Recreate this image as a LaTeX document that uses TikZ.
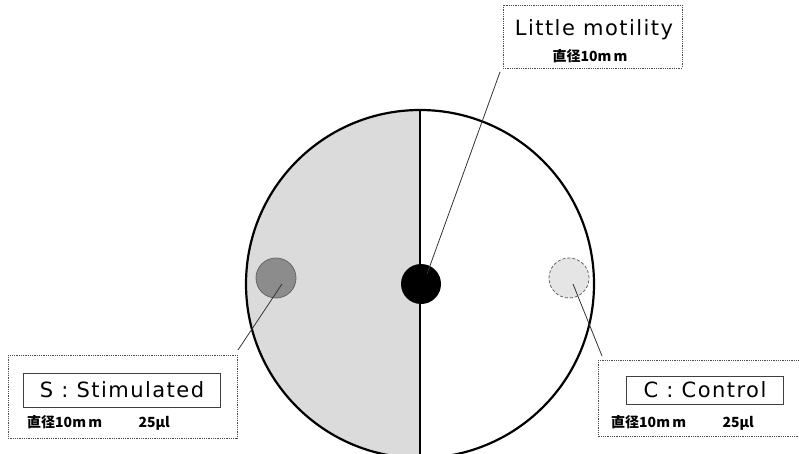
\documentclass[tikz,border=0pt]{standalone}
\usepackage{fontspec}
\newfontfamily\cjk{Noto Sans CJK JP}
\newfontfamily\lat[LetterSpace=7]{DejaVu Sans}
\begin{document}
\begin{tikzpicture}[x=1pt,y=-1pt,
  outerbox/.style={draw=black!70,line width=0.8pt,densely dotted},
  innerbox/.style={draw=black!75,line width=0.7pt},
  leader/.style={draw=black!80,line width=0.8pt},
  big/.style={font=\lat\fontsize{21}{23}\selectfont,inner sep=0pt},
  small/.style={font=\cjk\bfseries\fontsize{14}{16}\selectfont,inner sep=0pt}]
\useasboundingbox (0,0) rectangle (799,454);
% dish
\begin{scope}
\clip (0,0) rectangle (799,454);
\fill[black!14] (420,110) arc[start angle=270,end angle=90,radius=174] -- cycle;
\draw[line width=2.2pt] (420,284) circle[radius=174];
\draw[line width=1.4pt] (420,110) -- (420,458);
\end{scope}
% wells
\node[circle,minimum size=40pt,fill=black!45,draw=black!60,line width=0.8pt,inner sep=0pt] (S) at (276,278) {};
\node[circle,minimum size=40pt,fill=black,inner sep=0pt] (M) at (421,284) {};
\node[circle,minimum size=40pt,fill=black!10,draw=black!60,line width=0.8pt,densely dashed,inner sep=0pt] (C) at (569,278) {};
% top label
\draw[outerbox] (503,5) rectangle (682,68);
\node[big] (lm) at (594,30) {Little motility};
\node[small] (lmd) at (590,56) {直径10m\,m};
\coordinate (lmend) at (500,72);
\draw[leader] ([shift={(6,-10)}]M.center) -- (lmend);
% left label
\draw[outerbox] (8,355) rectangle (237,438);
\draw[innerbox] (23,373) rectangle (220,407);
\node[big] (st) at (122,390) {S : Stimulated};
\node[small,anchor=west] (std) at (27,423) {直径10m\,m\hspace{2.6em}25μl};
\coordinate (stend) at (238,350);
\draw[leader] ([shift={(6,6)}]S.center) -- (stend);
% right label
\draw[outerbox] (598,360) rectangle (805,436);
\draw[innerbox] (626,376) rectangle (783,404);
\node[big] (ct) at (705,390) {C : Control};
\node[small,anchor=west] (ctd) at (611,423) {直径10m\,m\hspace{2.6em}25μl};
\coordinate (ctend) at (602,356);
\draw[leader] ([shift={(4,6)}]C.center) -- (ctend);
\end{tikzpicture}
\end{document}
